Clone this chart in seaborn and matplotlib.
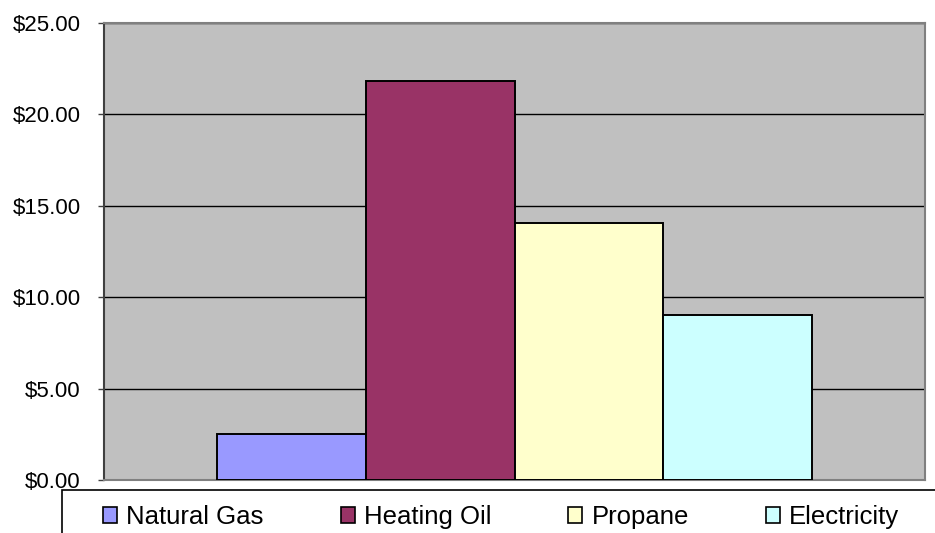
"""Heating fuel cost comparison bar chart."""

import numpy as np
import pandas as pd
import matplotlib
matplotlib.use('Agg')
import matplotlib.pyplot as plt
from matplotlib.patches import Rectangle
from matplotlib.ticker import FuncFormatter, MultipleLocator
import seaborn as sns

# Data
fuels = ['Natural Gas', 'Heating Oil', 'Propane', 'Electricity']
costs = [2.52, 21.85, 14.08, 9.04]
fuel_colors = ['#9999FF', '#993366', '#FFFFCC', '#CCFFFF']

df = pd.DataFrame({'group': [''] * len(fuels), 'fuel': fuels, 'cost': costs})

sns.set_style('white')
plt.rcParams['font.family'] = ['Liberation Sans', 'DejaVu Sans']
plt.rcParams['text.color'] = 'black'
plt.rcParams['ytick.labelcolor'] = 'black'

W, H = 935, 533
fig = plt.figure(figsize=(W / 100, H / 100), dpi=100)
ax = fig.add_axes([104 / W, 1 - 480 / H, (925 - 104) / W, (480 - 23) / H])

sns.barplot(
    data=df, x='group', y='cost', hue='fuel', hue_order=fuels,
    palette=dict(zip(fuels, fuel_colors)), width=0.724,
    edgecolor='black', linewidth=1.4, saturation=1, ax=ax,
    legend=False, zorder=3,
)

ax.set_facecolor('#C0C0C0')
ax.set_xlim(-0.5, 0.5)
ax.set_ylim(0, 25)
ax.yaxis.set_major_locator(MultipleLocator(5))
ax.yaxis.set_major_formatter(FuncFormatter(lambda v, _: f'${v:.2f}'))
ax.grid(True, axis='y', color='black', linewidth=1.0, zorder=1)
ax.set_axisbelow(True)
ax.set_xlabel('')
ax.set_ylabel('')
ax.set_xticks([])
ax.tick_params(axis='y', which='major', direction='out', length=4.3, width=1,
               color='#404040', labelcolor='black', labelsize=16, pad=12.5, left=True)

for side in ['top', 'right', 'bottom']:
    ax.spines[side].set_visible(True)
    ax.spines[side].set_color('#808080')
    ax.spines[side].set_linewidth(1.5)
ax.spines['left'].set_color('#404040')
ax.spines['left'].set_linewidth(1.5)

# Legend box: only the left and top edges fall inside the picture
fig.patches.append(Rectangle((62 / W, -0.1), 1.1, 0.1 + (533 - 490) / H,
                             transform=fig.transFigure, fill=False,
                             edgecolor='black', linewidth=1.2, clip_on=False))

handles = [Rectangle((0, 0), 1, 1, facecolor=c, edgecolor='black', linewidth=1.2)
           for c in fuel_colors]
fig.legend(handles, fuels, loc='center left', bbox_to_anchor=(103 / W, 1 - 517 / H),
           ncol=4, frameon=False, fontsize=18.5, handlelength=0.55, handleheight=0.55,
           handletextpad=0.35, columnspacing=3.0, borderaxespad=0, borderpad=0,
           labelcolor='black')

fig.savefig('out.png', dpi=100)
